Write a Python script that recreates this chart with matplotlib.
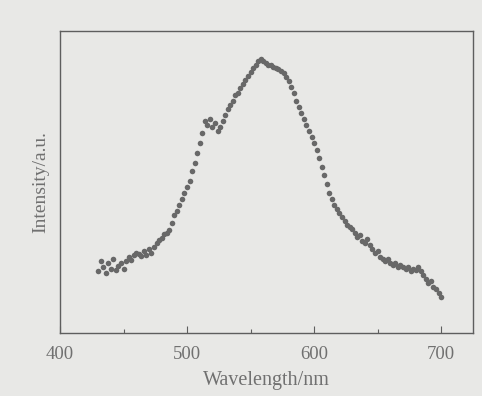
import numpy as np
import matplotlib
matplotlib.use("Agg")
import matplotlib.pyplot as plt
from matplotlib.ticker import MultipleLocator

# emission spectrum (arbitrary units)
wavelength = np.arange(430, 702, 2)
intensity = [
    62, 72, 66, 60, 70, 64, 74, 63, 67, 70,          # 430-448
    64, 72, 76, 73, 78, 80, 79, 77, 82, 78,          # 450-468
    84, 80, 86, 90, 93, 95, 99, 100, 103, 110,       # 470-488
    118, 122, 128, 134, 140, 146, 152, 162, 170, 180, # 490-508
    190, 200, 212, 208, 214, 206, 210, 202, 206, 212, # 510-528
    218, 224, 228, 232, 238, 240, 245, 249, 253, 257, # 530-548
    261, 265, 268, 272, 274, 272, 270, 268, 268, 266, # 550-568
    265, 264, 262, 260, 256, 252, 246, 240, 232, 226, # 570-588
    220, 214, 208, 202, 196, 190, 183, 175, 166, 158, # 590-608
    149, 140, 134, 128, 124, 120, 116, 112, 108, 106, # 610-628
    104, 100, 96, 98, 92, 90, 94, 88, 84, 80,        # 630-648
    82, 76, 74, 72, 74, 70, 68, 70, 66, 68,          # 650-668
    66, 64, 66, 62, 64, 63, 66, 62, 58, 54,          # 670-688
    50, 52, 46, 44, 40, 36,                           # 690-700
]

bg = "#e8e8e6"
ink = "#5e5e5e"

plt.rcParams["font.family"] = ["Liberation Serif", "DejaVu Serif"]

fig = plt.figure(figsize=(4.82, 3.96), dpi=100, facecolor=bg)
ax = fig.add_axes([0.1245, 0.159, 0.8565, 0.763], facecolor=bg)

ax.plot(wavelength, intensity, "o", ms=4.0, color="#686868", mec="none")

ax.set_xlim(400, 725)
ax.set_ylim(0, 302)
ax.xaxis.set_major_locator(MultipleLocator(100))
ax.xaxis.set_minor_locator(MultipleLocator(50))
ax.set_yticks([])
ax.tick_params(axis="x", which="major", direction="in", length=5, width=0.8,
               color=ink, labelcolor="#707070", labelsize=13.5, pad=9)
ax.tick_params(axis="x", which="minor", direction="in", length=3, width=0.8, color=ink)
for s in ax.spines.values():
    s.set_color(ink)
    s.set_linewidth(1.0)

ax.set_xlabel("Wavelength/nm", fontsize=14.5, color="#707070", labelpad=6)
ax.set_ylabel("Intensity/a.u.", fontsize=14, color="#707070", labelpad=8)

fig.savefig("out.png", dpi=100, facecolor=bg)
